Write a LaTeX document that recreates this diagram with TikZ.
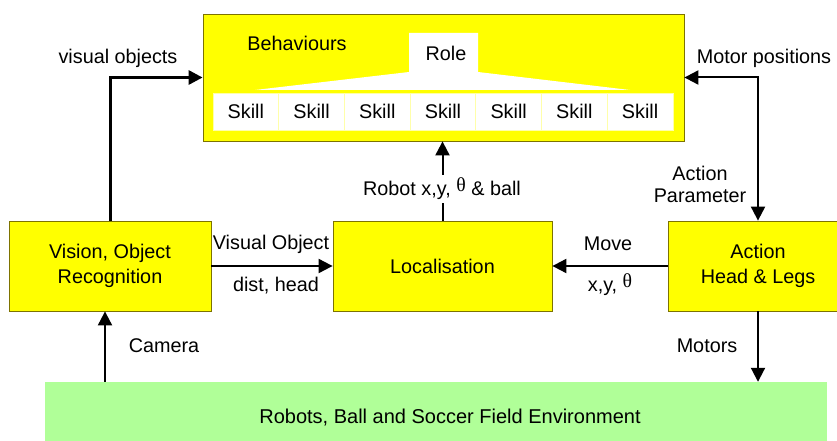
\documentclass[tikz,border=0pt]{standalone}
\usepackage{fontspec}
\setmainfont{Liberation Sans}
\newfontfamily\thetafont{Liberation Serif}
\usetikzlibrary{arrows.meta}
\definecolor{boxyellow}{RGB}{255,255,0}
\definecolor{boxline}{RGB}{125,115,0}
\definecolor{envgreen}{RGB}{176,255,152}
\definecolor{cellline}{RGB}{255,255,170}
\newcommand{\thetasym}{\raisebox{4pt}{\thetafont θ}}
\tikzset{
  x=1pt, y=-1pt,
  every node/.style={font=\fontsize{19.8}{24}\selectfont, inner sep=0pt},
  module/.style={draw=boxline, line width=0.8pt, fill=boxyellow, align=center},
  skillcell/.style={draw=cellline, line width=0.8pt, fill=white, minimum width=65.7pt, minimum height=37pt},
  label/.style={align=center},
  flow/.style={line width=2pt, -{Triangle[length=14pt,width=14pt]}},
  twoway/.style={line width=2pt, {Triangle[length=14pt,width=14pt]}-{Triangle[length=14pt,width=14pt]}},
}
\begin{document}
\begin{tikzpicture}
\useasboundingbox (0,0) rectangle (837,441);
\clip (0,0) rectangle (837,441);

% main modules
\node[module, minimum width=481pt, minimum height=127pt] (beh) at (443.5,77.5) {};
\node[module, minimum width=202pt, minimum height=90pt] (vis) at (110,266) {Vision, Object\\[1pt]Recognition};
\node[module, minimum width=219pt, minimum height=90pt] (loc) at (442.5,266) {Localisation};
\node[module, minimum width=180pt, minimum height=90pt] (act) at (758,266) {Action\\[1pt]Head \& Legs};
\node[fill=envgreen, minimum width=782pt, minimum height=70pt] (env) at (436,417) {};
\node (envtext) at (450,418) {\fontsize{20}{24}\selectfont Robots, Ball and Soccer Field Environment};

% behaviour hierarchy: role fanning out over the skills
\fill[white] (409,33) -- (478,33) -- (478,72) -- (630,90) -- (255,90) -- (409,72) -- cycle;
\node (behlabel) at (297,43) {Behaviours};
\node (role) at (446,53) {Role};
\foreach \i in {0,...,6}
  \node[skillcell] (skill\i) at ({245.85+65.7*\i},111.5) {Skill};

% connectors
\coordinate (camx) at (105,0);
\draw[flow, line width=3pt] (vis.north) |- (beh.west);
\draw[twoway] (beh.east) -| (act.north);
\draw[flow] (env.north -| camx) -- (vis.south -| camx);
\draw[flow] (act.south) -- (env.north -| act.south);
\draw[flow] (vis.east) -- (loc.west);
\draw[flow] (act.west) -- (loc.east);
\draw[flow] (loc.north) -- (loc.north |- beh.south);

% connector labels
\node[label, fill=white, inner sep=3pt] (robotpose) at (442,189) {Robot x,y, \thetasym\ \& ball};
\node[label] (visobj) at (118,58) {visual objects};
\node[label] (motorpos) at (764,58) {Motor positions};
\node[label] (actpar) at (700,184) {Action\\[-2pt]Parameter};
\node[label] (motors) at (707,346) {Motors};
\node[label] (camera) at (164,346) {Camera};
\node[label] (visobjtop) at (271,244) {Visual Object};
\node[label] (disthead) at (276,286) {dist, head};
\node[label] (move) at (608,244) {Move};
\node[label] (movexy) at (610,285) {x,y, \thetasym};
\end{tikzpicture}
\end{document}
